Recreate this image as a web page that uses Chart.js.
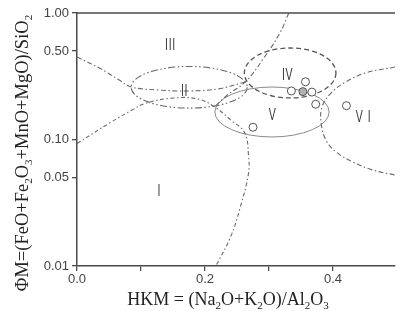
<!DOCTYPE html>
<html><head><meta charset="utf-8">
<script src="https://cdn.jsdelivr.net/npm/chart.js@4"></script>
<style>html,body{margin:0;padding:0;background:#fff}canvas{display:block}</style>
</head><body>
<canvas id="c" width="400" height="311"></canvas>
<script>
// ---- data ----
const xTicks = [0, 0.1, 0.2, 0.3, 0.4];
const xTickLabels = ['0.0', '', '0.2', '', '0.4'];
const yTicks = [1, 0.5, 0.1, 0.05, 0.01];
const yTickLabels = ['1.00', '0.50', '0.10', '0.05', '0.01'];

const sampleX = [0.357, 0.335, 0.353, 0.367, 0.373, 0.421, 0.275];
const sampleY = [0.286, 0.242, 0.239, 0.237, 0.190, 0.185, 0.125];
const sampleFilled = [false, false, true, false, false, false, false];

const curveA = [[0, 0.449], [0.035, 0.367], [0.066, 0.295], [0.085, 0.260], [0.128, 0.246], [0.174, 0.242], [0.22, 0.251], [0.263, 0.285]];
const curveB = [[0, 0.093], [0.051, 0.135], [0.086, 0.171], [0.108, 0.194], [0.151, 0.213], [0.189, 0.209], [0.215, 0.181], [0.24, 0.143], [0.262, 0.113], [0.268, 0.075], [0.268, 0.054], [0.255, 0.029], [0.24, 0.017], [0.217, 0.01]];
const curveC = [[0.331, 1.0], [0.317, 0.695], [0.292, 0.441], [0.263, 0.285], [0.235, 0.225], [0.215, 0.181]];
const curveD = [[0.497, 0.374], [0.451, 0.336], [0.42, 0.285], [0.397, 0.233], [0.383, 0.181], [0.3815, 0.135], [0.389, 0.099], [0.405, 0.0796], [0.431, 0.0664], [0.462, 0.0574], [0.497, 0.0524]];

// ellipses: [xmin, xmax, ymin, ymax]
const ellipseII = [0.0846, 0.266, 0.177, 0.378];
const ellipseIV = [0.2615, 0.4046, 0.213, 0.529];
const ellipseV = [0.2154, 0.394, 0.1047, 0.260];

const fieldNames = ['III', 'II', 'IV', 'V', 'VI', 'I'];
const fieldX = [0.146, 0.168, 0.329, 0.305, 0.451, 0.128];
const fieldY = [0.558, 0.242, 0.323, 0.156, 0.151, 0.0392];

const xTitle = [['HKM = (Na', 0], ['2', 1], ['O+K', 0], ['2', 1], ['O)/Al', 0], ['2', 1], ['O', 0], ['3', 1]];
const yTitle = [['ΦM=(FeO+Fe', 0], ['2', 1], ['O', 0], ['3', 1], ['+MnO+MgO)/SiO', 0], ['2', 1]];

// ---- helpers ----
const pts = a => a.map(p => ({x: p[0], y: p[1]}));
const AX = '#4a4a4a';

function richWidth(ctx, parts, size) {
  let w = 0;
  for (const [t, s] of parts) {
    ctx.font = (s ? Math.round(size * 0.62) : size) + 'px "Liberation Serif", "Times New Roman", serif';
    w += ctx.measureText(t).width;
  }
  return w;
}
function drawRich(ctx, parts, cx, baseY, size) {
  const w = richWidth(ctx, parts, size);
  let x = cx - w / 2;
  ctx.textAlign = 'left';
  ctx.textBaseline = 'alphabetic';
  for (const [t, s] of parts) {
    ctx.font = (s ? Math.round(size * 0.62) : size) + 'px "Liberation Serif", "Times New Roman", serif';
    ctx.fillText(t, x, baseY + (s ? size * 0.22 : 0));
    x += ctx.measureText(t).width;
  }
}

const decor = {
  id: 'decor',
  beforeDatasetsDraw(chart) {
    const {ctx, chartArea: ca, scales: {x, y}} = chart;
    ctx.save();
    ctx.beginPath();
    ctx.rect(ca.left, ca.top, ca.right - ca.left, ca.bottom - ca.top);
    ctx.clip();
    const ells = [
      [ellipseII, [7, 2.5, 1.5, 2.5, 1.5, 2.5], '#666', 1.1],
      [ellipseIV, [5, 3], '#555', 1.3],
      [ellipseV, [], '#8a8a8a', 1.0]
    ];
    for (const [e, dash, col, lw] of ells) {
      const x0 = x.getPixelForValue(e[0]), x1 = x.getPixelForValue(e[1]);
      const y0 = y.getPixelForValue(e[2]), y1 = y.getPixelForValue(e[3]);
      ctx.beginPath();
      ctx.setLineDash(dash);
      ctx.strokeStyle = col;
      ctx.lineWidth = lw;
      ctx.ellipse((x0 + x1) / 2, (y0 + y1) / 2, Math.abs(x1 - x0) / 2, Math.abs(y1 - y0) / 2, 0, 0, Math.PI * 2);
      ctx.stroke();
    }
    ctx.restore();
  },
  afterDraw(chart) {
    const {ctx, chartArea: ca, scales: {x, y}} = chart;
    ctx.save();
    // top frame line
    ctx.strokeStyle = AX;
    ctx.lineWidth = 1.5;
    ctx.beginPath();
    ctx.moveTo(ca.left, ca.top);
    ctx.lineTo(ca.right, ca.top);
    ctx.stroke();
    // field labels (narrow roman numerals)
    ctx.fillStyle = '#3a3a3a';
    ctx.font = '17px "Liberation Sans", Arial, sans-serif';
    ctx.textAlign = 'center';
    ctx.textBaseline = 'middle';
    fieldNames.forEach((n, i) => {
      ctx.save();
      ctx.translate(x.getPixelForValue(fieldX[i]), y.getPixelForValue(fieldY[i]));
      ctx.scale(0.62, 1);
      ctx.letterSpacing = n === 'VI' ? '8px' : (n.length > 1 ? '1px' : '0px');
      ctx.fillText(n, 0, 0);
      ctx.restore();
    });
    // axis titles
    ctx.fillStyle = '#222';
    drawRich(ctx, xTitle, 228, 305, 18);
    ctx.translate(28, 153);
    ctx.rotate(-Math.PI / 2);
    drawRich(ctx, yTitle, 0, 0, 18.5);
    ctx.restore();
  }
};

const lineDs = (data, dash) => ({
  type: 'line', data: pts(data), showLine: true, pointRadius: 0, borderColor: '#6a6a6a',
  borderWidth: 1.1, borderDash: dash, tension: 0.4, fill: false, order: 2
});

new Chart(document.getElementById('c'), {
  type: 'scatter',
  data: {
    datasets: [
      lineDs(curveA, [5, 2.5, 1.5, 2.5]),
      lineDs(curveB, [4, 2.5, 1.5, 2.5]),
      lineDs(curveC, [5, 2.5, 1.5, 2.5]),
      lineDs(curveD, [5, 2.5, 1.5, 2.5]),
      {
        type: 'scatter',
        data: sampleX.map((v, i) => ({x: v, y: sampleY[i]})),
        pointRadius: 4,
        pointBorderWidth: 1,
        pointBorderColor: '#555',
        pointBackgroundColor: sampleFilled.map(f => f ? '#b0b0b0' : '#fff'),
        order: 1
      }
    ]
  },
  options: {
    responsive: false,
    animation: false,
    layout: {padding: {top: 13, right: 0, left: 0, bottom: 0}},
    plugins: {legend: {display: false}, tooltip: {enabled: false}},
    scales: {
      x: {
        type: 'linear', min: 0, max: 0.4969,
        afterBuildTicks: s => { s.ticks = xTicks.map(v => ({value: v})); },
        afterFit: s => { s.height = 45; },
        ticks: {
          autoSkip: false, maxRotation: 0, padding: 1,
          color: '#444', font: {family: '"Liberation Sans", Arial, sans-serif', size: 13},
          callback: (v) => { const i = xTicks.indexOf(v); return i >= 0 ? xTickLabels[i] : ''; }
        },
        grid: {drawOnChartArea: false, drawTicks: true, tickLength: 5, color: AX, lineWidth: 1.3},
        border: {display: true, color: AX, width: 1.5}
      },
      y: {
        type: 'logarithmic', min: 0.01, max: 1,
        afterBuildTicks: s => { s.ticks = yTicks.map(v => ({value: v})); },
        afterFit: s => { s.width = 77; },
        ticks: {
          autoSkip: false, padding: 3,
          color: '#444', font: {family: '"Liberation Sans", Arial, sans-serif', size: 13},
          callback: (v) => { const i = yTicks.indexOf(v); return i >= 0 ? yTickLabels[i] : ''; }
        },
        grid: {drawOnChartArea: false, drawTicks: true, tickLength: 5, color: AX, lineWidth: 1.3},
        border: {display: true, color: AX, width: 1.5}
      }
    }
  },
  plugins: [decor]
});
</script>
</body></html>
